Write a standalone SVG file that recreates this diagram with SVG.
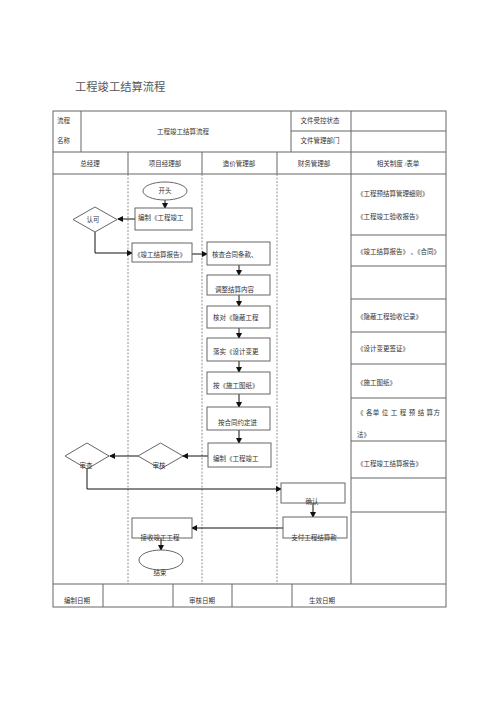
<svg xmlns="http://www.w3.org/2000/svg" width="500" height="707" viewBox="0 0 500 707">
<defs>
<marker id="ah" markerWidth="6" markerHeight="6" refX="5" refY="3" orient="auto" markerUnits="userSpaceOnUse">
<path d="M0,0 L6,3 L0,6 Z" fill="#111"/>
</marker>
<style>
text{font-family:"Liberation Serif","Noto Sans CJK SC",serif;fill:#333;font-size:6.5px}
.t{font-size:11.3px;fill:#555}
.c{text-anchor:middle}
.grid{stroke:#666;stroke-width:1;fill:none}
.lane{stroke:#777;stroke-width:0.8;stroke-dasharray:2,1.5;fill:none}
.box{fill:#fff;stroke:#666;stroke-width:1}
.con{stroke:#111;stroke-width:1;fill:none;marker-end:url(#ah)}
</style>
</defs>
<rect width="500" height="707" fill="#fff"/>
<text class="t" x="75" y="91">工程竣工结算流程</text>

<g id="table">
<rect class="grid" x="53" y="111" width="393" height="496"/>
<line class="grid" x1="81" y1="111" x2="81" y2="152"/>
<line class="grid" x1="291" y1="111" x2="291" y2="152"/>
<line class="grid" x1="351" y1="111" x2="351" y2="152"/>
<line class="grid" x1="291" y1="131" x2="446" y2="131"/>
<line class="grid" x1="53" y1="152" x2="446" y2="152"/>
<line class="grid" x1="53" y1="174" x2="446" y2="174"/>
<line class="grid" x1="128" y1="152" x2="128" y2="174"/>
<line class="grid" x1="202" y1="152" x2="202" y2="174"/>
<line class="grid" x1="277" y1="152" x2="277" y2="174"/>
<line class="grid" x1="351" y1="152" x2="351" y2="584"/>
<line class="lane" x1="128" y1="174" x2="128" y2="584"/>
<line class="lane" x1="202" y1="174" x2="202" y2="584"/>
<line class="lane" x1="277" y1="174" x2="277" y2="584"/>
<line class="grid" x1="351" y1="235" x2="446" y2="235"/>
<line class="grid" x1="351" y1="266" x2="446" y2="266"/>
<line class="grid" x1="351" y1="299" x2="446" y2="299"/>
<line class="grid" x1="351" y1="332" x2="446" y2="332"/>
<line class="grid" x1="351" y1="364" x2="446" y2="364"/>
<line class="grid" x1="351" y1="398" x2="446" y2="398"/>
<line class="grid" x1="351" y1="441" x2="446" y2="441"/>
<line class="grid" x1="351" y1="478" x2="446" y2="478"/>
<line class="grid" x1="351" y1="512" x2="446" y2="512"/>
<line class="grid" x1="53" y1="584" x2="446" y2="584"/>
<line class="grid" x1="103" y1="584" x2="103" y2="607"/>
<line class="grid" x1="173" y1="584" x2="173" y2="607"/>
<line class="grid" x1="232" y1="584" x2="232" y2="607"/>
<line class="grid" x1="292" y1="584" x2="292" y2="607"/>
<text x="57" y="123">流程</text>
<text x="57" y="143">名称</text>
<text class="c" x="183" y="134">工程竣工结算流程</text>
<text class="c" x="320" y="123">文件受控状态</text>
<text class="c" x="320" y="143">文件管理部门</text>
<text class="c" x="90" y="166">总经理</text>
<text class="c" x="165" y="166">项目经理部</text>
<text class="c" x="239" y="166">造价管理部</text>
<text class="c" x="314" y="166">财务管理部</text>
<text class="c" x="398" y="166">相关制度 /表单</text>
<text x="357" y="196">《工程预结算管理细则》</text>
<text x="357" y="219">《工程竣工验收报告》</text>
<text x="357" y="254">《竣工结算报告》 、《合同》</text>
<text x="357" y="319">《隐蔽工程验收记录》</text>
<text x="357" y="351">《设计变更签证》</text>
<text x="357" y="385">《施工图纸》</text>
<text x="357" y="415" textLength="83" lengthAdjust="spacing">《 各单 位 工 程 预 结 算方</text>
<text x="357" y="437">法》</text>
<text x="357" y="466">《工程竣工结算报告》</text>
<text class="c" x="77" y="603">编制日期</text>
<text class="c" x="202" y="603">审核日期</text>
<text class="c" x="322" y="603">生效日期</text>
</g>

<g id="connectors">
<line class="con" x1="165" y1="200" x2="165" y2="208"/>
<line class="con" x1="135" y1="219" x2="118" y2="219"/>
<polyline class="con" points="95,232 95,253 132,253"/>
<line class="con" x1="192" y1="254" x2="207" y2="254"/>
<line class="con" x1="239" y1="265" x2="239" y2="275"/>
<line class="con" x1="239" y1="295" x2="239" y2="306"/>
<line class="con" x1="239" y1="328" x2="239" y2="338"/>
<line class="con" x1="239" y1="361" x2="239" y2="372"/>
<line class="con" x1="239" y1="394" x2="239" y2="407"/>
<line class="con" x1="239" y1="430" x2="239" y2="443"/>
<line class="con" x1="208" y1="456" x2="183" y2="456"/>
<line class="con" x1="138" y1="456" x2="110" y2="456"/>
<polyline class="con" points="87,469 87,489 281,489"/>
<line class="con" x1="313" y1="503" x2="313" y2="517"/>
<line class="con" x1="283" y1="528" x2="192" y2="528"/>
<line class="con" x1="161" y1="538" x2="161" y2="550"/>
</g>

<g id="start"><ellipse class="box" cx="165" cy="191" rx="22" ry="9"/><text class="c" x="165" y="193">开头</text></g>
<g id="n1"><rect class="box" x="135" y="208" width="57" height="22"/><text x="138" y="220">编制《工程竣工</text></g>
<g id="d1"><polygon class="box" points="95,207 117,219.5 95,232 73,219.5"/><text class="c" x="93" y="222">认可</text></g>
<g id="n2"><rect class="box" x="132" y="243" width="60" height="19"/><text x="134" y="257">《竣工结算报告》</text></g>
<g id="n3"><rect class="box" x="207" y="242" width="63" height="23"/><text x="212" y="257">核查合同条款、</text></g>
<g id="n4"><rect class="box" x="207" y="275" width="63" height="20"/><text x="215" y="292">调整结算内容</text></g>
<g id="n5"><rect class="box" x="207" y="306" width="63" height="22"/><text x="213" y="320">核对《隐蔽工程</text></g>
<g id="n6"><rect class="box" x="207" y="338" width="63" height="23"/><text x="213" y="354">落实《设计变更</text></g>
<g id="n7"><rect class="box" x="207" y="372" width="63" height="22"/><text x="213" y="388">按《施工图纸》</text></g>
<g id="n8"><rect class="box" x="207" y="407" width="63" height="23"/><text x="218" y="425">按合同约定进</text></g>
<g id="n9"><rect class="box" x="208" y="443" width="63" height="24"/><text x="213" y="461">编制《工程竣工</text></g>
<g id="d2"><polygon class="box" points="160.5,443 183,456 160.5,469 138,456"/><text class="c" x="159" y="468">审核</text></g>
<g id="d3"><polygon class="box" points="87,443 109,456 87,469 65,456"/><text class="c" x="86" y="468">审查</text></g>
<g id="n10"><rect class="box" x="281" y="483" width="64" height="20"/><text class="c" x="312" y="504">确认</text></g>
<g id="n11"><rect class="box" x="283" y="517" width="64" height="21"/><text class="c" x="314" y="540">支付工程结算款</text></g>
<g id="n12"><rect class="box" x="132" y="518" width="60" height="20"/><text class="c" x="160" y="540">接收竣工工程</text></g>
<g id="end"><ellipse class="box" cx="161" cy="560" rx="22" ry="10"/><text class="c" x="160" y="575">结束</text></g>
</svg>
